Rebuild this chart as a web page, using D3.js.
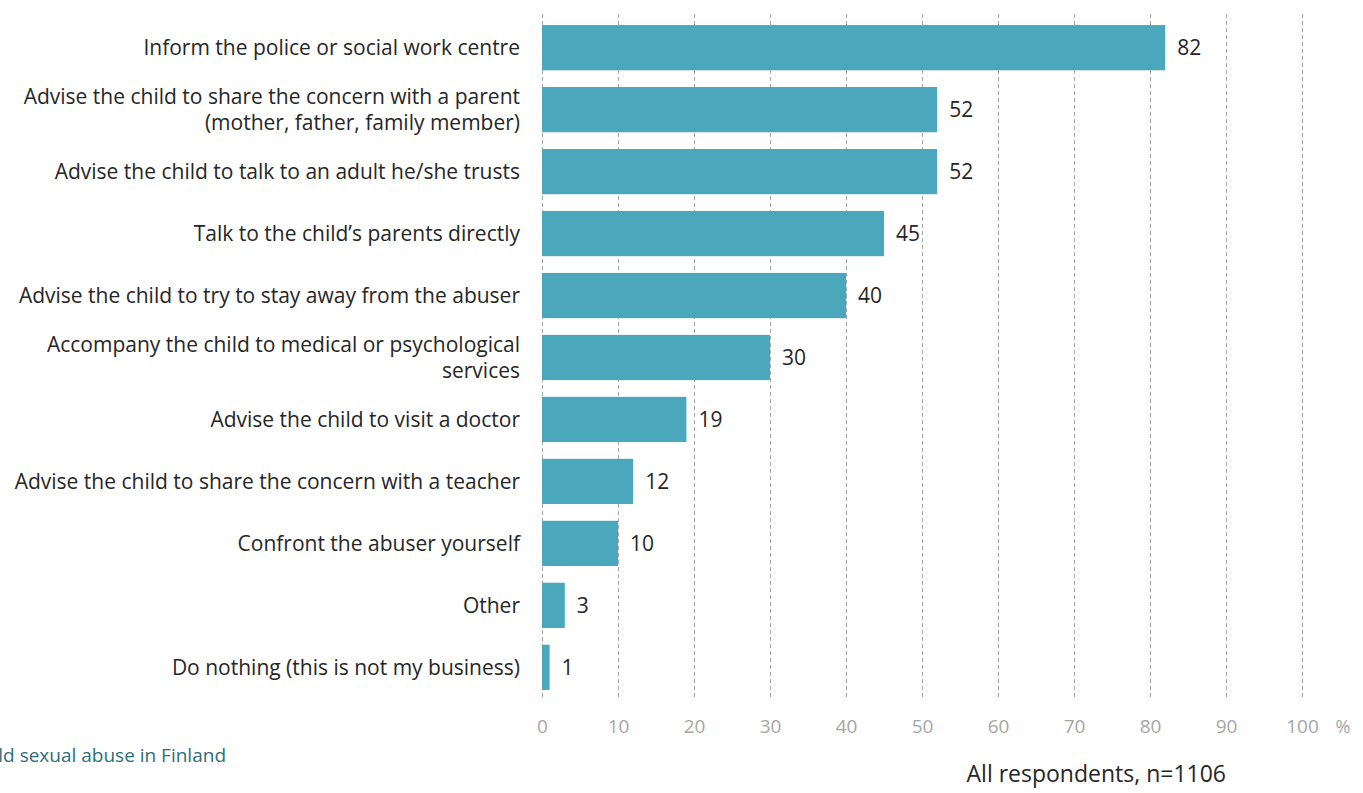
<!DOCTYPE html>
<html>
<head>
<meta charset="utf-8">
<script src="https://cdn.jsdelivr.net/npm/d3@7"></script>
<style>
  html, body { margin: 0; padding: 0; background: #fff; }
  svg { display: block; }
  text { font-family: "Open Sans", "Noto Sans", sans-serif; }
</style>
</head>
<body>
<svg id="chart" width="1363" height="793"></svg>
<script>
// Actions respondents would take (% of respondents)
const categories = [
  ["Inform the police or social work centre"],
  ["Advise the child to share the concern with a parent", "(mother, father, family member)"],
  ["Advise the child to talk to an adult he/she trusts"],
  ["Talk to the child\u2019s parents directly"],
  ["Advise the child to try to stay away from the abuser"],
  ["Accompany the child to medical or psychological", "services"],
  ["Advise the child to visit a doctor"],
  ["Advise the child to share the concern with a teacher"],
  ["Confront the abuser yourself"],
  ["Other"],
  ["Do nothing (this is not my business)"]
];
const values = [82, 52, 52, 45, 40, 30, 19, 12, 10, 3, 1];
const xTicks = [0, 10, 20, 30, 40, 50, 60, 70, 80, 90, 100];
const unitLabel = "%";
const sourceNote = "child sexual abuse in Finland";
const baseNote = "All respondents, n=1106";

const svg = d3.select("#chart");
const plotLeft = 542, plotRight = 1302, plotTop = 17, plotBottom = 698;

const x = d3.scaleLinear().domain([0, 100]).range([plotLeft, plotRight]);
const y = d3.scaleBand()
  .domain(d3.range(categories.length))
  .range([plotTop, plotBottom])
  .paddingInner(0.27)
  .paddingOuter(0.13);

// Dashed vertical gridlines
svg.append("g").selectAll("line")
  .data(xTicks)
  .join("line")
  .attr("x1", d => x(d) + 0.5).attr("x2", d => x(d) + 0.5)
  .attr("y1", 14).attr("y2", plotBottom)
  .attr("stroke", "#a6a6a6")
  .attr("stroke-width", 1)
  .attr("stroke-dasharray", "4,3");

// Bars
svg.append("g").selectAll("rect")
  .data(values)
  .join("rect")
  .attr("x", x(0))
  .attr("y", (d, i) => y(i))
  .attr("width", d => x(d) - x(0))
  .attr("height", y.bandwidth())
  .attr("fill", "#4ba7bc");

// Value labels
svg.append("g").selectAll("text")
  .data(values)
  .join("text")
  .attr("x", d => x(d) + 12)
  .attr("y", (d, i) => y(i) + y.bandwidth() / 2)
  .attr("dy", "0.36em")
  .attr("font-size", 21)
  .attr("fill", "#262626")
  .text(d => d);

// Category labels (right-aligned, may wrap to two lines)
const catG = svg.append("g");
categories.forEach((lines, i) => {
  const cy = y(i) + y.bandwidth() / 2;
  const lh = 26;
  const t = catG.append("text")
    .attr("text-anchor", "end")
    .attr("font-size", 21)
    .attr("fill", "#262626");
  lines.forEach((ln, j) => {
    t.append("tspan")
      .attr("x", 520)
      .attr("y", cy + (j - (lines.length - 1) / 2) * lh)
      .attr("dy", "0.36em")
      .text(ln);
  });
});

// X axis tick labels
const xAxis = d3.axisBottom(x).tickValues(xTicks).tickSize(0).tickPadding(0);
const axG = svg.append("g")
  .attr("transform", `translate(0, 719)`)
  .call(xAxis);
axG.select(".domain").remove();
axG.selectAll("text")
  .attr("font-size", 19)
  .attr("fill", "#a6a6a6")
  .attr("font-family", "\"Open Sans\", sans-serif");

svg.append("text")
  .attr("x", 1343).attr("y", 733)
  .attr("text-anchor", "middle")
  .attr("font-size", 18)
  .attr("fill", "#a6a6a6")
  .text(unitLabel);

svg.append("text")
  .attr("x", 226).attr("y", 762)
  .attr("text-anchor", "end")
  .attr("font-size", 19)
  .attr("fill", "#2f6e7b")
  .text(sourceNote);

svg.append("text")
  .attr("x", 1226).attr("y", 782)
  .attr("text-anchor", "end")
  .attr("font-size", 23)
  .attr("fill", "#262626")
  .text(baseNote);
</script>
</body>
</html>
